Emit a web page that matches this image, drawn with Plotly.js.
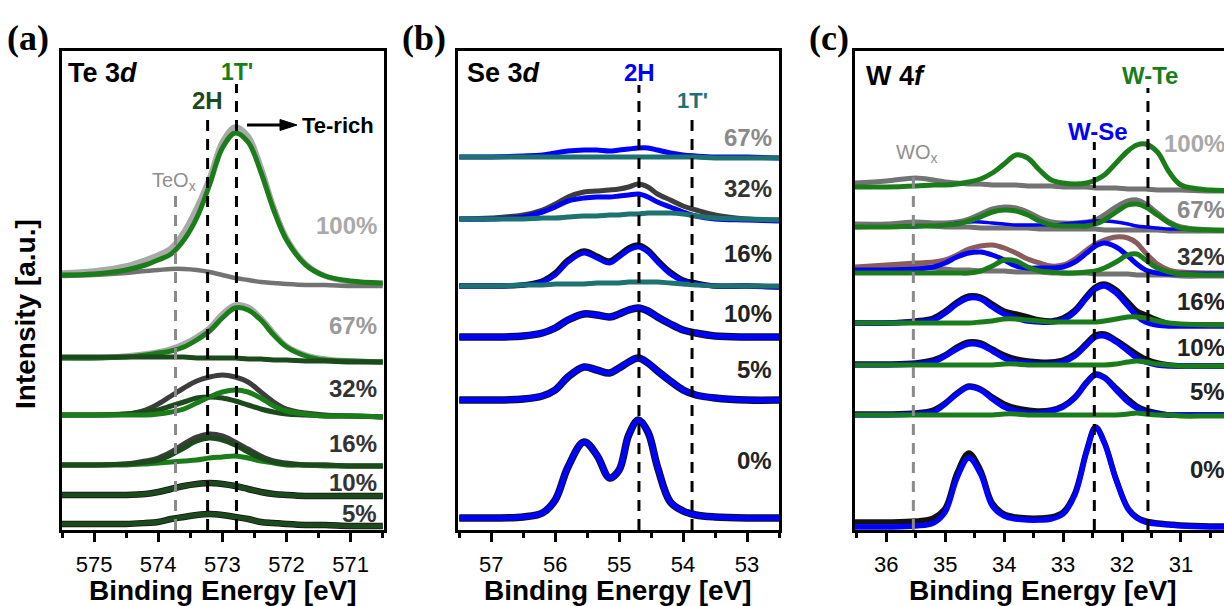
<!DOCTYPE html>
<html><head><meta charset="utf-8">
<script src="https://cdn.plot.ly/plotly-3.0.1.min.js"></script>
<style>html,body{margin:0;padding:0;background:#fff;overflow:hidden}#chart{width:1224px;height:606px}</style>
</head><body><div id="chart"></div>
<script>
// ---------- Data (binding energy in eV, intensity in stacked a.u.) ----------
const E_A = [575.5,575.0,574.5,574.2,574.0,573.8,573.6,573.4,573.2,573.0,572.8,572.6,572.4,572.2,572.0,571.7,571.4,571.0,570.5];
const A100_ENV  = [255,257,262,268,273,280,296,320,350,386,401,392,361,321,290,264,252,246,244];
const A100_TEOX = [252,253,255,257,258,259,259,258,256,253,250,248,246,245,244,243,243,242,242];
const A100_1T   = [253,254,258,263,268,274,288,310,343,380,395,386,356,318,288,263,252,247,245];
const A67_ENV   = [170,170,172,174,176,179,184,191,200,214,223,221,210,195,182,173,169,167,166];
const A67_1T    = [170,170,171,173,175,177,181,188,197,210,220,218,208,193,181,172,168,167,166];
const A67_2H    = [171,171,171,171,171,171,171,170,170,170,170,169,169,168,168,167,167,166,166];
const A32_ENV   = [113,113,114,118,124,132,140,147,151,153,151,146,136,126,119,115,113,112,111];
const A32_2H    = [113,113,114,116,118,122,126,130,131,130,127,123,119,116,114,113,112,112,111];
const A32_1T    = [113,113,113,113,114,116,119,125,131,136,138,136,130,122,117,114,112,112,111];
const A16_ENV   = [63,63,64,67,70,76,84,91,94,92,86,79,72,67,65,63,63,62,62];
const A16_2H    = [63,63,64,66,68,73,80,87,90,88,83,76,70,66,64,63,63,62,62];
const A16_1T    = [63,63,63,64,65,66,67,68,70,71,72,70,67,65,63,63,62,62,62];
const A10_2H    = [33,33,33,34,36,39,42,44,45,44,42,39,36,34,33,32,32,32,32];
const A5_2H     = [4,4,4,5,6,9,11,13,14,13,11,9,6,5,4,3,3,2,2];
const A_REF_E   = [573.73, 573.23, 572.78]; // TeOx, 2H, 1T'

const E_B = [57.5,57.0,56.5,56.2,56.0,55.8,55.55,55.35,55.15,55.0,54.85,54.7,54.55,54.4,54.2,54.0,53.8,53.5,53.0,52.5];
const B67_2H  = [371,371,372,373,375,377,378,378,377,378,379,380,380,378,375,373,372,371,371,370];
const B67_1T  = [371,371,371,371,371,371,371,371,371,371,371,371,371,371,371,371,371,370,370,370];
const B32_ENV = [309,310,313,318,324,331,336,337,338,339,341,344,341,334,328,322,318,313,309,308];
const B32_2H  = [309,309,311,316,321,327,330,331,331,332,333,334,331,326,321,316,312,309,308,307];
const B32_1T  = [309,309,309,310,310,311,312,312,313,313,314,314,315,315,315,314,312,310,309,308];
const B16_ENV = [242,242,243,247,255,268,277,272,267,273,280,283,278,268,256,248,245,242,242,241];
const B16_2H  = [242,242,243,246,253,266,275,270,265,271,278,281,276,266,254,247,244,242,242,241];
const B16_1T  = [242,242,243,243,244,244,244,245,245,245,246,246,246,246,245,244,243,242,242,242];
const B10_2H  = [191,191,192,195,200,208,214,213,211,214,218,220,217,211,204,198,195,192,191,191];
const B5_2H   = [128,128,129,132,138,151,161,158,155,160,166,170,165,157,147,138,133,130,128,128];
const B0_2H   = [10,10,11,15,28,61,86,73,50,58,93,108,96,61,26,17,13,11,10,10];
const B_REF_E = [54.69, 53.86]; // 2H, 1T'

const E_C = [36.55,36.0,35.5,35.2,35.0,34.8,34.6,34.4,34.2,34.0,33.8,33.6,33.4,33.2,33.0,32.8,32.6,32.45,32.3,32.1,31.9,31.75,31.6,31.4,31.2,31.0,30.5,30.0];
const C100_WOX = [345,347,350,348,346,345,344,344,343,343,343,342,342,342,341,341,341,340,340,340,339,339,339,338,338,338,337,337];
const C100_WTE = [341,341,342,343,343,344,346,349,355,364,373,370,358,348,345,344,345,348,353,365,377,383,384,376,356,343,338,338];
const C67_WOX  = [301,302,303,302,301,301,301,300,300,300,300,300,299,299,299,299,299,299,298,298,298,298,298,298,297,297,297,297];
const C67_ENV  = [304,304,306,305,305,306,309,314,319,321,320,316,310,306,305,305,306,308,313,321,327,328,324,315,306,301,298,298];
const C67_WSE  = [301,301,301,302,303,305,306,306,305,304,303,303,303,303,304,305,306,307,307,306,304,302,301,300,299,299,298,298];
const C67_WTE  = [301,301,302,302,303,304,307,311,316,318,317,313,307,303,302,302,302,304,308,316,323,324,321,313,305,300,298,298];
const C32_WOX  = [258,259,262,260,259,258,258,257,257,257,256,256,256,255,255,255,255,254,254,254,254,253,253,253,253,252,252,252];
const C32_ENV  = [261,263,265,266,268,273,279,282,283,280,275,269,265,262,263,269,278,284,288,291,290,285,275,264,258,256,255,255];
const C32_WSE  = [258,258,259,261,265,271,275,276,273,268,262,260,260,260,261,266,275,282,285,281,272,264,258,255,254,254,254,254];
const C32_WTE  = [255,255,255,255,255,255,255,257,262,268,267,261,257,256,255,255,256,257,260,266,273,274,268,260,256,254,253,253];
const C16_ENV  = [205,205,207,210,217,226,232,231,224,217,214,211,208,207,210,218,232,241,244,238,226,217,213,208,204,203,203,203];
const C16_WSE  = [205,205,206,208,215,224,230,229,221,214,210,207,206,206,208,216,230,239,242,235,222,212,206,203,202,202,202,202];
const C16_WTE  = [205,205,205,205,205,205,205,206,207,209,209,208,207,206,206,206,206,206,207,209,211,211,210,207,205,204,203,203];
const C10_ENV  = [164,164,165,168,173,181,186,185,179,173,169,167,166,166,168,174,185,193,194,188,180,174,169,165,163,162,162,162];
const C10_WSE  = [163,163,164,166,172,179,184,183,177,170,166,165,164,164,166,172,183,191,192,186,177,170,166,163,162,162,162,162];
const C10_WTE  = [163,163,163,163,163,163,163,163,163,164,164,163,163,163,163,163,163,163,163,164,166,167,166,164,163,162,162,162];
const C5_ENV   = [114,114,115,118,125,135,142,139,131,124,120,118,117,118,122,131,146,154,151,140,129,122,118,115,113,113,113,113];
const C5_WSE   = [113,113,114,116,124,134,141,138,129,121,117,115,115,117,121,130,145,153,150,138,126,120,116,114,113,113,113,113];
const C5_WTE   = [113,113,113,113,113,113,113,113,113,114,114,113,113,113,113,113,113,113,113,113,114,115,114,113,113,112,112,112];
const C0_ENV   = [6,6,7,10,20,55,75,58,25,14,11,10,10,11,16,35,78,101,86,49,20,11,7,5,4,3,2,2];
const C0_WSE   = [1,1,2,5,16,50,70,54,22,12,9,8,8,9,14,33,76,100,85,48,19,10,6,4,3,2,1,1];
const C_REF_E  = [35.54, 32.47, 31.56]; // WOx, W-Se, W-Te

const PCT_A = ['100%','67%','32%','16%','10%','5%'];
const PCT_B = ['67%','32%','16%','10%','5%','0%'];
const PCT_C = ['100%','67%','32%','16%','10%','5%','0%'];

// ---------- Styles ----------
const W = 1224, H = 606;
const GREEN = '#1a7d1a', DKGREEN = '#1c4a1c', LGRAY = '#a9a9a9', MGRAY = '#737373',
      DKGRAY = '#3d3d3d', BLUE = '#0000ff', TEAL = '#1f7272', BROWN = '#8a5c5c', BLACK = '#111';
const FONT = 'Liberation Sans, Arial, sans-serif';
const px = p => p / W;
const py = p => 1 - p / H;

const traces = [];
function add(ax, x, y, color, width) {
  traces.push({type:'scatter', mode:'lines', x:x, y:y, xaxis:'x'+ax, yaxis:'y'+ax,
    line:{color:color, width:width, shape:'spline', smoothing:1}, hoverinfo:'skip', showlegend:false});
}
// Panel (a)
add('', E_A, A100_ENV, LGRAY, 5.5); add('', E_A, A100_TEOX, MGRAY, 4.5); add('', E_A, A100_1T, GREEN, 5);
add('', E_A, A67_ENV, LGRAY, 5.5); add('', E_A, A67_1T, GREEN, 5); add('', E_A, A67_2H, DKGREEN, 5);
add('', E_A, A32_ENV, DKGRAY, 5); add('', E_A, A32_2H, DKGREEN, 5); add('', E_A, A32_1T, GREEN, 5);
add('', E_A, A16_ENV, DKGRAY, 5); add('', E_A, A16_1T, GREEN, 5); add('', E_A, A16_2H, DKGREEN, 5);
add('', E_A, A10_2H, BLACK, 6.5); add('', E_A, A10_2H, DKGREEN, 5);
add('', E_A, A5_2H, BLACK, 6.5); add('', E_A, A5_2H, DKGREEN, 5);
// Panel (b)
add('2', E_B, B67_2H, BLUE, 5); add('2', E_B, B67_1T, TEAL, 5);
add('2', E_B, B32_ENV, DKGRAY, 5); add('2', E_B, B32_2H, BLUE, 5); add('2', E_B, B32_1T, TEAL, 5);
add('2', E_B, B16_ENV, BLACK, 5.5); add('2', E_B, B16_2H, BLUE, 5); add('2', E_B, B16_1T, TEAL, 5);
[B10_2H, B5_2H, B0_2H].forEach(d => { add('2', E_B, d, BLACK, 7.5); add('2', E_B, d, BLUE, 5.5); });
// Panel (c)
add('3', E_C, C100_WOX, MGRAY, 5); add('3', E_C, C100_WTE, GREEN, 5);
add('3', E_C, C67_WOX, MGRAY, 5); add('3', E_C, C67_ENV, MGRAY, 5); add('3', E_C, C67_WSE, BLUE, 3.5); add('3', E_C, C67_WTE, GREEN, 5);
add('3', E_C, C32_WOX, MGRAY, 5); add('3', E_C, C32_ENV, BROWN, 5); add('3', E_C, C32_WSE, BLUE, 5); add('3', E_C, C32_WTE, GREEN, 5);
add('3', E_C, C16_ENV, BLACK, 5.5); add('3', E_C, C16_WSE, BLUE, 5.5); add('3', E_C, C16_WTE, GREEN, 5);
add('3', E_C, C10_ENV, BLACK, 5.5); add('3', E_C, C10_WSE, BLUE, 5.5); add('3', E_C, C10_WTE, GREEN, 5);
add('3', E_C, C5_ENV, BLACK, 5.5); add('3', E_C, C5_WSE, BLUE, 5.5); add('3', E_C, C5_WTE, GREEN, 5);
add('3', E_C, C0_ENV, BLACK, 5.5); add('3', E_C, C0_WSE, BLUE, 5.5);

// ---------- Axes ----------
const ydom = [1 - 530/H, 1 - 51/H];
function xax(dom, range, anchor) {
  return {domain:dom, range:range, anchor:anchor, showline:true, linewidth:3, linecolor:'#000', mirror:true,
    ticks:'outside', ticklen:9, tickwidth:3, tickcolor:'#000', dtick:1, showgrid:false, zeroline:false,
    ticklabelstandoff:4,
    minor:{dtick:0.5, ticks:'outside', ticklen:5, tickwidth:3, tickcolor:'#000', showgrid:false},
    tickfont:{family:FONT, size:22, color:'#000'}};
}
function yax(anchor, mirror) {
  return {domain:ydom, range:[-2,477], anchor:anchor, showline:true, linewidth:3, linecolor:'#000', mirror:mirror,
    ticks:'', showticklabels:false, showgrid:false, zeroline:false};
}

// ---------- Reference lines ----------
const shapes = [];
function vline(xr, yr, e, top, color) {
  shapes.push({type:'line', xref:xr, yref:yr, x0:e, x1:e, y0:-2, y1:top, layer:'above',
    line:{color:color, width:3, dash:'11px,8px'}});
}
vline('x', 'y', A_REF_E[0], 333, '#8a8a8a'); vline('x', 'y', A_REF_E[1], 415, '#000'); vline('x', 'y', A_REF_E[2], 444, '#000');
vline('x2', 'y2', B_REF_E[0], 443, '#000'); vline('x2', 'y2', B_REF_E[1], 413, '#000');
vline('x3', 'y3', C_REF_E[0], 358, '#8a8a8a'); vline('x3', 'y3', C_REF_E[1], 386, '#000'); vline('x3', 'y3', C_REF_E[2], 440, '#000');
// "Te-rich" arrow (shaft + head)
shapes.push({type:'line', xref:'paper', yref:'paper', x0:px(247), x1:px(284), y0:py(125), y1:py(125),
  line:{color:'#000', width:3}});
shapes.push({type:'path', xref:'paper', yref:'paper', fillcolor:'#000', line:{color:'#000', width:1},
  path:`M ${px(280)},${py(119.5)} L ${px(297)},${py(125)} L ${px(280)},${py(130.5)} Z`});

// ---------- Text ----------
const ann = [];
function txt(x, y, text, opt) {
  opt = opt || {};
  ann.push({xref:'paper', yref:'paper', x:px(x), y:py(y), text:text, showarrow:false,
    xanchor:opt.xa || 'center', yanchor:'middle', textangle:opt.rot || 0,
    font:{family:opt.fam || FONT, size:opt.size || 24, color:opt.color || '#000', weight:opt.w || 'bold'}});
}
// panel letters
txt(28, 38, '(a)', {fam:'Liberation Serif, Times New Roman, serif', size:36});
txt(424, 38, '(b)', {fam:'Liberation Serif, Times New Roman, serif', size:36});
txt(829, 38, '(c)', {fam:'Liberation Serif, Times New Roman, serif', size:36});
// axis titles
txt(223, 590, 'Binding Energy [eV]', {size:28});
txt(618, 590, 'Binding Energy [eV]', {size:28});
txt(1043, 590, 'Binding Energy [eV]', {size:28});
txt(25, 314, 'Intensity [a.u.]', {size:28, rot:-90});
// panel headers
txt(66, 73, 'Te 3<i>d</i>', {xa:'left', size:27});
txt(237, 72, "1T'", {color:GREEN, size:23});
txt(207, 101, '2H', {color:DKGREEN, size:24});
txt(300, 125, 'Te-rich', {xa:'left', size:22});
txt(150, 181, 'TeO<sub>x</sub>', {xa:'left', size:20, color:'#8f8f8f', w:'normal'});
txt(465, 73, 'Se 3<i>d</i>', {xa:'left', size:27});
txt(639, 73, '2H', {color:BLUE, size:24});
txt(692, 100, "1T'", {color:TEAL, size:22});
txt(864, 76, 'W 4<i>f</i>', {xa:'left', size:27});
txt(1150, 76, 'W-Te', {color:GREEN, size:24});
txt(1098, 131, 'W-Se', {color:BLUE, size:24});
txt(894, 153, 'WO<sub>x</sub>', {xa:'left', size:20, color:'#8f8f8f', w:'normal'});
// percentage labels
const A_LAB_Y = [225, 325, 388, 443, 482, 513];
const A_LAB_C = [LGRAY, '#9a9a9a', '#333', '#333', '#333', '#333'];
PCT_A.forEach((t,i) => txt(379, A_LAB_Y[i], t, {xa:'right', color:A_LAB_C[i]}));
const B_LAB_Y = [137, 188, 253, 313, 370, 460];
const B_LAB_C = ['#8a8a8a', '#333', '#222', '#222', '#222', '#222'];
PCT_B.forEach((t,i) => txt(774, B_LAB_Y[i], t, {xa:'right', color:B_LAB_C[i]}));
const C_LAB_Y = [143, 210, 256, 302, 347, 392, 470];
const C_LAB_C = [LGRAY, '#8a8a8a', '#333', '#222', '#222', '#222', '#222'];
PCT_C.forEach((t,i) => txt(1227, C_LAB_Y[i], t, {xa:'right', color:C_LAB_C[i]}));

const layout = {
  width:W, height:H, margin:{l:0, r:0, t:0, b:0}, paper_bgcolor:'#fff', plot_bgcolor:'#fff',
  showlegend:false, font:{family:FONT},
  xaxis:xax([62/W, 384/W], [575.5, 570.48], 'y'),
  xaxis2:xax([458/W, 779/W], [57.52, 52.5], 'y2'),
  xaxis3:xax([855/W, 1], [36.53, 30.27], 'y3'),
  yaxis:yax('x', true), yaxis2:yax('x2', true), yaxis3:yax('x3', false),
  shapes:shapes, annotations:ann
};
Plotly.newPlot('chart', traces, layout, {staticPlot:true, displayModeBar:false});
</script></body></html>
